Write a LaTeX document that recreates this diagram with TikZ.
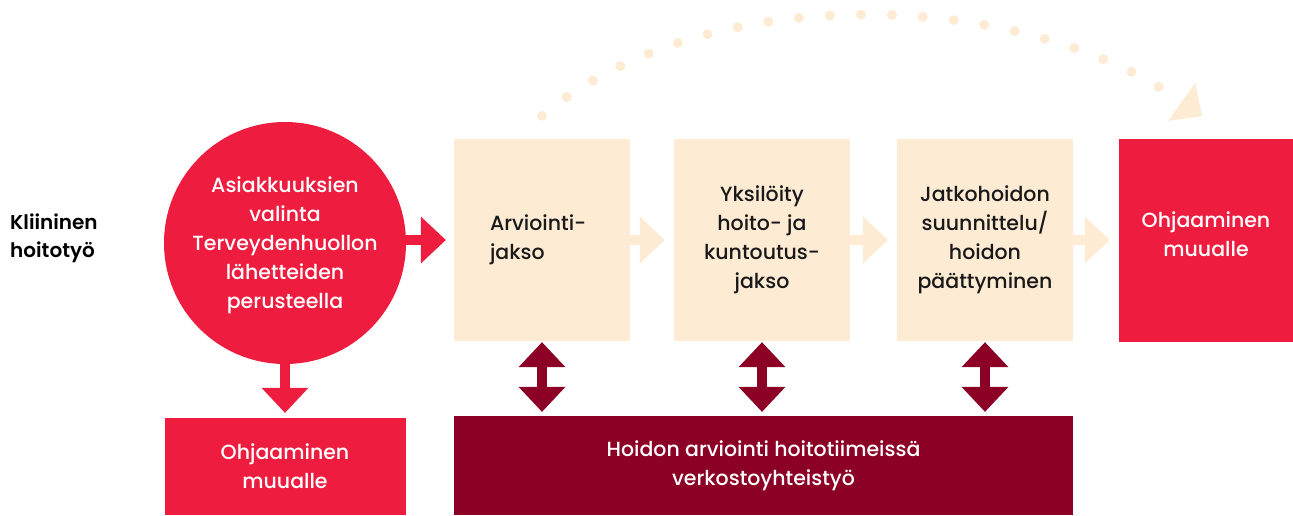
\documentclass[tikz,border=0pt]{standalone}
\usepackage{fontspec}
\setmainfont{Poppins}[UprightFont={* Medium},BoldFont={* SemiBold}]
\usetikzlibrary{arrows.meta,positioning}
\definecolor{kred}{HTML}{EE1C3E}
\definecolor{kdark}{HTML}{8B0024}
\definecolor{kbeige}{HTML}{FDEBD4}
\begin{document}
\begin{tikzpicture}[x=1pt,y=-1pt,
  every node/.style={font=\fontsize{20.5}{29}\selectfont},
  phase/.style={fill=kbeige,text=black!90,minimum width=176pt,minimum height=202pt,align=center,inner sep=0pt},
  redbox/.style={fill=kred,text=white,align=center,inner sep=0pt},
  blockarrow/.style={line width=10pt,-{Triangle[length=25pt,width=47pt,line width=0pt]}},
  twoway/.style={draw=kdark,line width=10pt,{Triangle[length=25pt,width=47pt,line width=0pt]}-{Triangle[length=25pt,width=47pt,line width=0pt]}}]
\useasboundingbox (0,0) rectangle (1293,515);

\node[circle,fill=kred,text=white,minimum size=242pt,inner sep=0pt,align=center,text depth=-22pt] (circ) at (285,243)
  {Asiakkuuksien\\valinta\\Terveydenhuollon\\lähetteiden\\perusteella};
\node[phase,text width=104pt,align=left] (arv) at (542,240) {Arviointi-\\jakso};
\node[phase] (yks) at (762,240) {Yksilöity\\hoito- ja\\kuntoutus-\\jakso};
\node[phase] (jat) at (985,240) {Jatkohoidon\\suunnittelu/\\hoidon\\päättyminen};
\node[redbox,minimum width=174pt,minimum height=203pt,text depth=12pt] (ohjr) at (1206,240) {Ohjaaminen\\muualle};
\node[redbox,minimum width=241pt,minimum height=97pt] (ohjl) at (285,466.5) {Ohjaaminen\\muualle};
\node[fill=kdark,text=white,align=center,inner sep=0pt,minimum width=619pt,minimum height=99pt] (verk) at (763.5,465.5)
  {Hoidon arviointi hoitotiimeissä\\verkostoyhteistyö};
\node[font=\bfseries\fontsize{20}{28}\selectfont,align=left,anchor=west,inner sep=0pt] (klin) at (10,238) {Kliininen\\hoitotyö};

% arrows
\draw[blockarrow,kred] ([shift={(-6,-3)}]circ.east) -- ([xshift=-8pt]arv.west);
\draw[blockarrow,kred] ([yshift=6pt]circ.south) -- ([yshift=5pt]ohjl.north);
\foreach \a/\b in {arv/yks,yks/jat,jat/ohjr}
  \draw[blockarrow,kbeige] (\a.east) -- ([xshift=-9pt]\b.west);
\foreach \n in {arv,yks,jat}
  \draw[twoway] ([yshift=-1pt]\n.south) -- ([yshift=4pt]\n.south |- verk.north);

% dotted arc
\coordinate (arcA) at ([yshift=23pt]arv.north);
\coordinate (arcB) at ([shift={(-4,-22)}]ohjr.north);
\draw[kbeige,line width=10pt,line cap=round,dash pattern=on 0pt off 31pt,-{Triangle[length=25pt,width=47pt,line width=0pt]}]
  (arcA) .. controls +(170,-141) and +(-175,-125) .. (arcB);
\end{tikzpicture}
\end{document}
